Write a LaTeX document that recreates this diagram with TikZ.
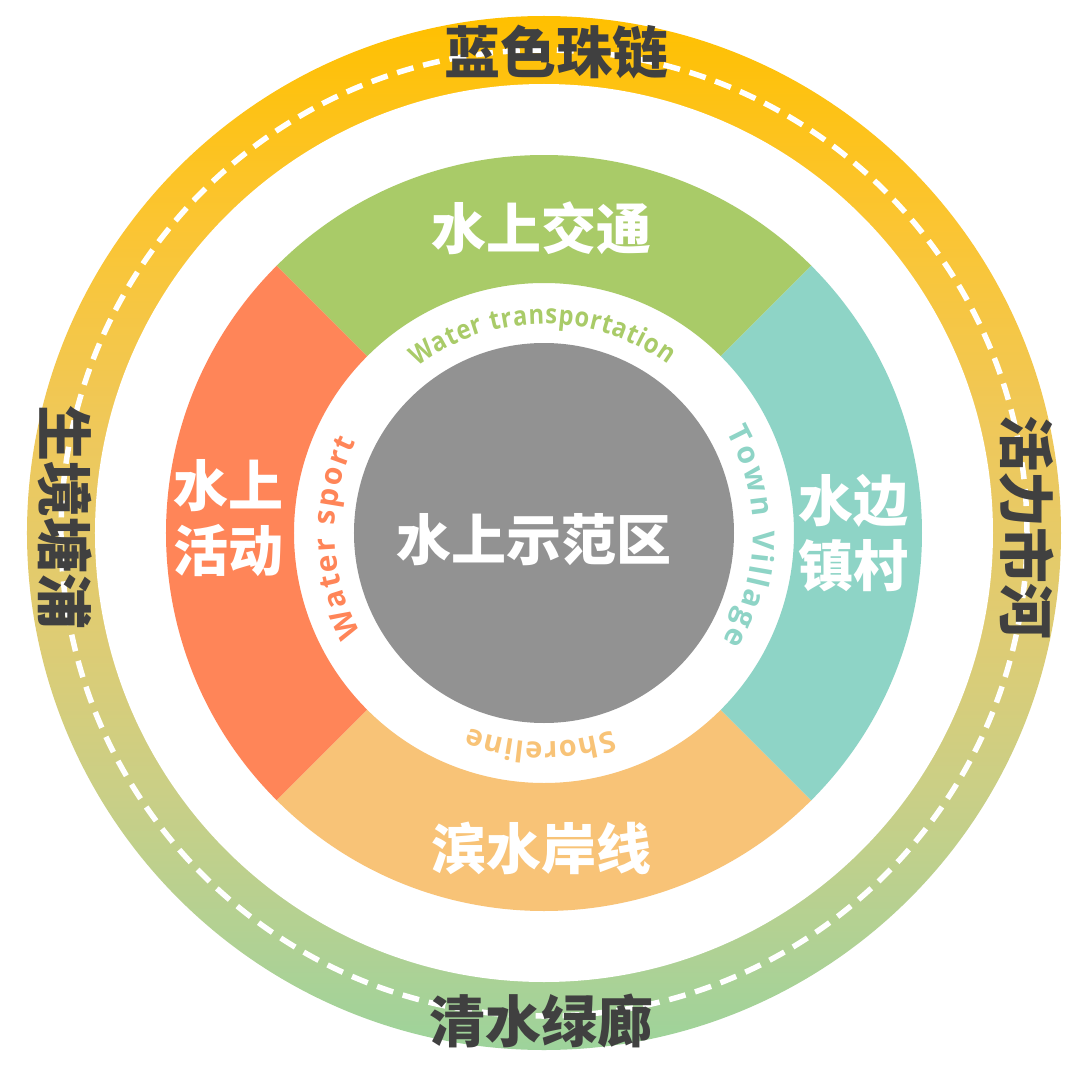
\documentclass[tikz,border=0pt]{standalone}
\usepackage{fontspec}
\usetikzlibrary{decorations.text}
\newfontfamily\cjk{Noto Sans CJK SC}
\newfontfamily\lat{Open Sans}
\newfontfamily\latn{Open Sans}[FakeStretch=0.88]
\newcommand\latf{\lat\bfseries\fontsize{29}{32}\selectfont}
\newcommand\latbig{\lat\bfseries\fontsize{30}{32}\selectfont}
\newcommand\latnarrow{\latn\bfseries\fontsize{27}{32}\selectfont}
\definecolor{cgreen}{HTML}{A9CB68}
\definecolor{corange}{HTML}{FF8558}
\definecolor{clight}{HTML}{F8C377}
\definecolor{cteal}{HTML}{8ED4C6}
\definecolor{cgray}{HTML}{929292}
\definecolor{darktext}{HTML}{404040}
\definecolor{rA}{HTML}{FFC000}
\definecolor{rB}{HTML}{FBC532}
\definecolor{rC}{HTML}{EFC85A}
\definecolor{rD}{HTML}{DECC74}
\definecolor{rE}{HTML}{CACF86}
\definecolor{rF}{HTML}{B0D194}
\definecolor{rG}{HTML}{9DD39B}
\pgfdeclareverticalshading{ringshade}{100bp}{color(0bp)=(rG); color(25bp)=(rG); color(30bp)=(rF); color(37.5bp)=(rE); color(45bp)=(rD); color(55bp)=(rC); color(65bp)=(rB); color(75bp)=(rA); color(100bp)=(rA)}
\tikzset{
  bigcn/.style={font=\cjk\bfseries\fontsize{55}{65}\selectfont, text=white, inner sep=0pt, align=center},
  ringcn/.style={font=\cjk\bfseries\fontsize{56}{66}\selectfont, text=darktext, inner sep=0pt},
  arctext/.style n args={3}{decorate, decoration={text along path, text align={fit to path}, text color=#1, text={|#3|#2}}},
  dashring/.style={white, line width=5.5, dash pattern=on 17 off 10}
}
\begin{document}
\begin{tikzpicture}[x=1pt,y=1pt]
\fill[white] (-544,-552) rectangle (536,533);
\useasboundingbox (-544,-552) rectangle (536,533);
% outer ring
\shade[shading=ringshade] (0,0) circle[radius=517];
\fill[white] (0,0) circle[radius=449];
\draw[dashring] (0,0) circle[radius=483];
% ring labels
\node[ringcn] (blue) at (13,481) {蓝色珠链};
\node[ringcn] (clear) at (-2,-488) {清水绿廊};
\node[ringcn, rotate=-90] (eco) at (-479,16) {生境塘浦};
\node[ringcn, rotate=-90] (vital) at (483,6) {活力市河};
% segments
\fill[cgreen] (45:378) arc[start angle=45, end angle=135, radius=378] -- (135:250) arc[start angle=135, end angle=45, radius=250] -- cycle;
\fill[corange] (135:378) arc[start angle=135, end angle=225, radius=378] -- (225:250) arc[start angle=225, end angle=135, radius=250] -- cycle;
\fill[clight] (225:378) arc[start angle=225, end angle=315, radius=378] -- (315:250) arc[start angle=315, end angle=225, radius=250] -- cycle;
\fill[cteal] (-45:378) arc[start angle=-45, end angle=45, radius=378] -- (45:250) arc[start angle=45, end angle=-45, radius=250] -- cycle;
% centre
\fill[cgray] (0,0) circle[radius=190];
\node[bigcn] (core) at (-10,-7) {水上示范区};
% segment labels
\node[bigcn] (traffic) at (-2,305) {水上交通};
\node[bigcn] (shore) at (-2,-315) {滨水岸线};
\node[bigcn] (sport) at (-315,14.5) {水上\\活动};
\node[bigcn] (town) at (309,0) {水边\\镇村};
% curved english texts
\path[arctext={cgreen}{Water transportation}{\latnarrow}] (127.3:209) arc[start angle=127.3, end angle=53.6, radius=209];
\path[arctext={cteal}{Town Village}{\latbig}] (29:209) arc[start angle=29, end angle=-31, radius=209];
\path[arctext={clight}{Shoreline}{\latf}] (289:209) arc[start angle=289, end angle=249, radius=209];
\path[arctext={corange}{Water sport}{\latbig}] (208.7:209) arc[start angle=208.7, end angle=154, radius=209];
\end{tikzpicture}
\end{document}
